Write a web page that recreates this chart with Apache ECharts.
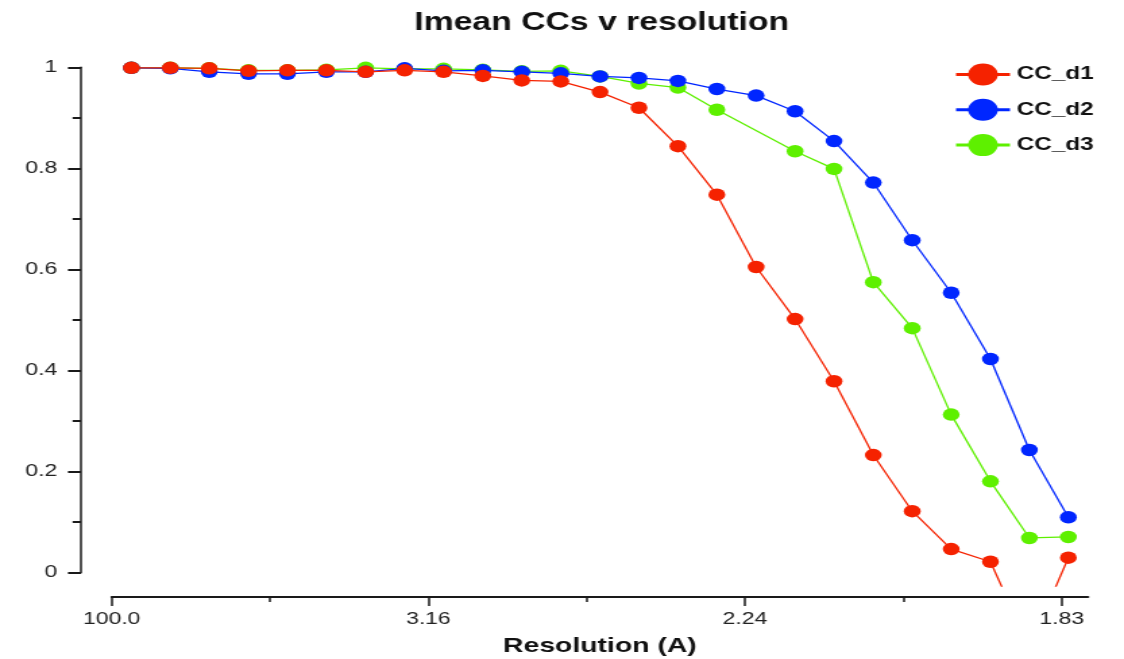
<!DOCTYPE html>
<html>
<head>
<meta charset="utf-8">
<script src="https://cdn.jsdelivr.net/npm/echarts@6/dist/echarts.min.js"></script>
<style>
  html, body { margin: 0; padding: 0; background: #fff; overflow: hidden; }
  #wrap { width: 1124px; height: 659px; overflow: hidden; }
  #chart { width: 833px; height: 659px; transform: scaleX(1.34934); transform-origin: 0 0; }
</style>
</head>
<body>
<div id="wrap"><div id="chart"></div></div>
<script>
// 1/d^2 bin centres (x positions)
const resBins = [0.0062, 0.0185, 0.0308, 0.0432, 0.0555, 0.0678, 0.0802, 0.0925, 0.1048, 0.1172,
                 0.1295, 0.1418, 0.1542, 0.1665, 0.1788, 0.1911, 0.2035, 0.2158, 0.2281, 0.2405,
                 0.2528, 0.2651, 0.2775, 0.2898, 0.3021];
const ccD1 = [0.999, 0.999, 0.998, 0.993, 0.994, 0.994, 0.991, 0.994, 0.991, 0.983,
              0.974, 0.972, 0.951, 0.920, 0.844, 0.748, 0.605, 0.502, 0.379, 0.233,
              0.122, 0.047, 0.022, -0.148, 0.030];
const ccD2 = [0.999, 0.998, 0.991, 0.987, 0.987, 0.991, 0.991, 0.998, 0.993, 0.994,
              0.991, 0.988, 0.982, 0.979, 0.973, 0.957, 0.944, 0.913, 0.854, 0.772,
              0.658, 0.554, 0.423, 0.243, 0.110];
const ccD3 = [0.999, 0.999, 0.998, 0.994, 0.994, 0.995, 0.999, 0.997, 0.997, 0.995,
              0.992, 0.993, 0.982, 0.968, 0.960, 0.916, null, 0.834, 0.799, 0.575,
              0.484, 0.313, 0.181, 0.069, 0.071];
const seriesNames = ['CC_d1', 'CC_d2', 'CC_d3'];
const xTickValues = [0, 0.1, 0.2, 0.3];
const xTickLabels = ['100.0', '3.16', '2.24', '1.83'];
const xMinorTicks = [0.05, 0.15, 0.25];

const colors = ['#f52200', '#0026ff', '#5ef000'];
const FONT = '"Liberation Sans", Arial, Helvetica, sans-serif';

function pairs(ys) { return resBins.map((x, i) => [x, ys[i]]); }

const chart = echarts.init(document.getElementById('chart'), null, { renderer: 'canvas' });
const allSeries = [ccD1, ccD2, ccD3];
const zs = [4, 3, 2];

chart.setOption({
  animation: false,
  backgroundColor: '#ffffff',
  title: {
    text: 'Imean CCs v resolution',
    left: 307, top: 11, padding: 0,
    textStyle: { fontFamily: FONT, fontWeight: 'bold', fontSize: 25, color: '#111' }
  },
  legend: {
    orient: 'vertical', left: 707, top: 63.5, padding: 0,
    itemWidth: 40, itemHeight: 27.5, itemGap: 13.3,
    data: seriesNames,
    lineStyle: { width: 3 },
    textStyle: { fontFamily: FONT, fontWeight: 'bold', fontSize: 18, color: '#111' }
  },
  grid: [
    { left: 82.8, right: 26.7, top: 67.3, bottom: 73, containLabel: false, outerBoundsMode: 'none' },
    { left: 82.8, right: 26.7, top: 67.3, bottom: 86.3, containLabel: false, outerBoundsMode: 'none' }
  ],
  xAxis: [
    {
      type: 'value', gridIndex: 0, min: 0, max: 0.3083, offset: 11, position: 'bottom',
      name: 'Resolution (A)', nameLocation: 'middle', nameGap: 39,
      nameTextStyle: { fontFamily: FONT, fontWeight: 'bold', fontSize: 21, color: '#111' },
      axisLine: { show: true, onZero: false, lineStyle: { color: '#1a1a1a', width: 2 } },
      axisTick: { show: true, customValues: xTickValues, length: 9, lineStyle: { color: '#1a1a1a', width: 1.5 } },
      axisLabel: {
        customValues: xTickValues, margin: 14,
        fontFamily: FONT, fontSize: 17, color: '#222',
        formatter: function (v) {
          const i = xTickValues.findIndex(t => Math.abs(t - v) < 1e-6);
          return i >= 0 ? xTickLabels[i] : '';
        }
      },
      splitLine: { show: false }
    },
    {
      type: 'value', gridIndex: 0, min: 0, max: 0.3083, offset: 11, position: 'bottom',
      axisLine: { show: false, onZero: false },
      axisTick: { show: true, customValues: xMinorTicks, length: 5, lineStyle: { color: '#1a1a1a', width: 1.5 } },
      axisLabel: { show: false },
      splitLine: { show: false }
    },
    { type: 'value', gridIndex: 1, min: 0, max: 1, show: false, axisLine: { onZero: false } }
  ],
  yAxis: [
    { type: 'value', gridIndex: 0, min: -0.026, max: 1, show: false, axisLine: { onZero: false } },
    {
      type: 'value', gridIndex: 1, min: 0, max: 1, interval: 0.2, offset: 22.8, position: 'left',
      axisLine: { show: true, onZero: false, lineStyle: { color: '#1a1a1a', width: 1.5 } },
      axisTick: { show: true, length: 9.6, lineStyle: { color: '#1a1a1a', width: 2 } },
      minorTick: { show: true, splitNumber: 2, length: 6.2, lineStyle: { color: '#1a1a1a', width: 2 } },
      axisLabel: {
        margin: 17.5, fontFamily: FONT, fontSize: 17, color: '#222',
        formatter: function (v) { return String(Math.round(v * 10) / 10); }
      },
      splitLine: { show: false }
    }
  ],
  series: allSeries.map((ys, k) => ({
    name: seriesNames[k],
    type: 'line',
    xAxisIndex: 0, yAxisIndex: 0,
    data: pairs(ys),
    connectNulls: true,
    clip: true,
    z: zs[k],
    symbol: 'circle',
    symbolSize: 12.5,
    color: colors[k],
    itemStyle: { color: colors[k] },
    lineStyle: { color: colors[k], width: 1.3 }
  }))
});
</script>
</body>
</html>
